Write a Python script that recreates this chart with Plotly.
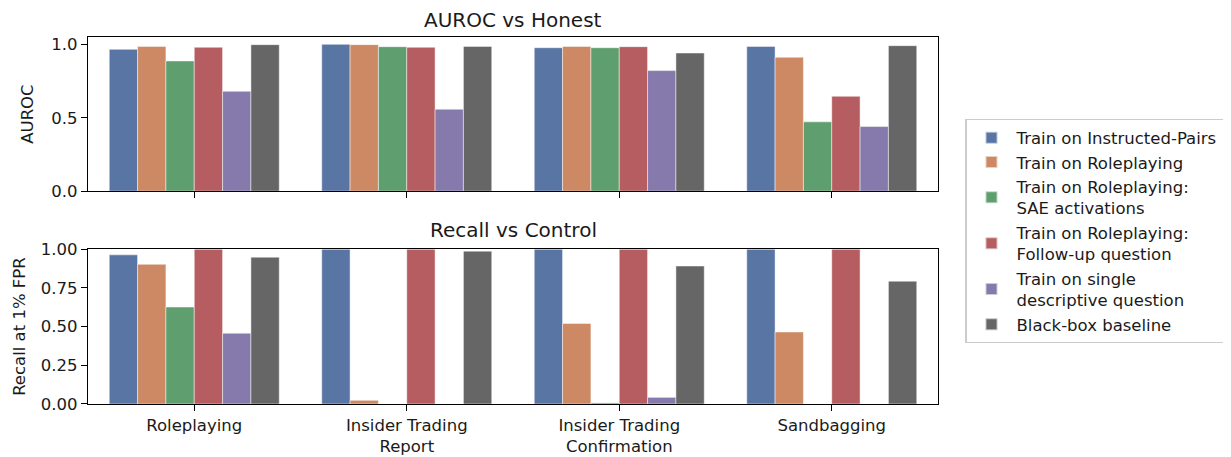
import plotly.graph_objects as go

categories = ["Roleplaying", "Insider Trading<br>Report", "Insider Trading<br>Confirmation", "Sandbagging"]
series_names = [
    "Train on Instructed-Pairs",
    "Train on Roleplaying",
    "Train on Roleplaying:<br>SAE activations",
    "Train on Roleplaying:<br>Follow-up question",
    "Train on single<br>descriptive question",
    "Black-box baseline",
]
colors = ["#5875A4", "#CC8963", "#5F9E6E", "#B55D60", "#857AAB", "#666666"]

auroc_instructed = [0.966, 1.000, 0.977, 0.986]
auroc_roleplay = [0.986, 0.998, 0.986, 0.912]
auroc_sae = [0.887, 0.984, 0.977, 0.472]
auroc_followup = [0.980, 0.980, 0.984, 0.646]
auroc_descriptive = [0.680, 0.558, 0.821, 0.440]
auroc_blackbox = [0.998, 0.986, 0.941, 0.991]

recall_instructed = [0.963, 1.000, 1.000, 1.000]
recall_roleplay = [0.902, 0.024, 0.520, 0.465]
recall_sae = [0.626, 0.000, 0.007, 0.000]
recall_followup = [1.000, 1.000, 1.000, 1.000]
recall_descriptive = [0.457, 0.000, 0.043, 0.000]
recall_blackbox = [0.948, 0.987, 0.891, 0.793]

auroc = [auroc_instructed, auroc_roleplay, auroc_sae, auroc_followup, auroc_descriptive, auroc_blackbox]
recall = [recall_instructed, recall_roleplay, recall_sae, recall_followup, recall_descriptive, recall_blackbox]

FONT = "DejaVu Sans"
FS = 16.5
TFS = 20
TXT = "#1a1a1a"
fig = go.Figure()
xidx = list(range(len(categories)))
for i, name in enumerate(series_names):
    fig.add_trace(go.Bar(x=xidx, y=auroc[i], name=name, marker=dict(color=colors[i], line=dict(color="rgba(255,255,255,0.6)", width=0.8)),
                         xaxis="x", yaxis="y", offsetgroup=str(i), legendgroup=name, showlegend=True))
    fig.add_trace(go.Bar(x=xidx, y=recall[i], name=name, marker=dict(color=colors[i], line=dict(color="rgba(255,255,255,0.6)", width=0.8)),
                         xaxis="x2", yaxis="y2", offsetgroup=str(i), legendgroup=name, showlegend=False))

axis_common = dict(showline=True, linecolor="black", linewidth=1.3, mirror=True, ticks="outside",
                   ticklen=6, tickwidth=1.3, tickcolor="black", showgrid=False, zeroline=False, automargin=False,
                   tickfont=dict(family=FONT, size=FS, color=TXT))

fig.update_layout(
    width=1231, height=457,
    margin=dict(l=80, r=301, t=29, b=61),
    plot_bgcolor="white", paper_bgcolor="white",
    barmode="group", bargap=0.2, bargroupgap=0,
    font=dict(family=FONT, size=FS, color=TXT),
    xaxis=dict(axis_common, range=[-0.5, 3.5], tickvals=xidx, ticktext=[""] * 4, anchor="y", domain=[0, 1]),
    yaxis=dict(axis_common, range=[0, 1.05], tickvals=[0, 0.5, 1.0], ticktext=["0.0", "0.5", "1.0"], domain=[0.580, 1],
               title=dict(text="AUROC", font=dict(family=FONT, size=FS, color=TXT), standoff=13)),
    xaxis2=dict(axis_common, range=[-0.5, 3.5], tickvals=xidx, ticktext=categories, anchor="y2", domain=[0, 1]),
    yaxis2=dict(axis_common, range=[0, 1.0], tickvals=[0, 0.25, 0.5, 0.75, 1.0], ticktext=["0.00", "0.25", "0.50", "0.75", "1.00"],
                domain=[0, 0.422], title=dict(text="Recall at 1% FPR", font=dict(family=FONT, size=FS, color=TXT), standoff=11)),
    legend=dict(x=1.032, y=0.471, xanchor="left", yanchor="middle", bordercolor="#cccccc", borderwidth=1.3,
                font=dict(family=FONT, size=FS, color=TXT), tracegroupgap=0, itemsizing="constant", itemwidth=40),
    annotations=[
        dict(text="AUROC vs Honest", x=0.5, y=1, xref="paper", yref="paper", xanchor="center", yanchor="bottom", yshift=3,
             showarrow=False, font=dict(family=FONT, size=TFS, color=TXT)),
        dict(text="Recall vs Control", x=0.5, y=0.422, xref="paper", yref="paper", xanchor="center", yanchor="bottom", yshift=5,
             showarrow=False, font=dict(family=FONT, size=TFS, color=TXT)),
    ],
)

fig.write_html("out.html")
